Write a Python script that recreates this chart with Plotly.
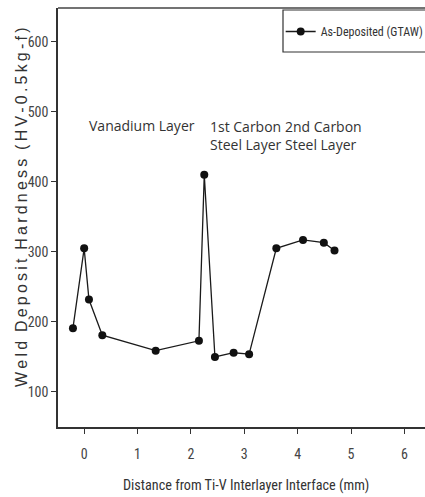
import plotly.graph_objects as go

distance_mm = [-0.21, 0.0, 0.09, 0.34, 1.34, 2.15, 2.25, 2.45, 2.80, 3.09, 3.60, 4.10, 4.49, 4.69]
hardness_hv = [191, 305, 232, 181, 159, 173, 410, 150, 156, 154, 305, 317, 313, 302]
x_ticks = [0, 1, 2, 3, 4, 5, 6]
y_ticks = [100, 200, 300, 400, 500, 600]
series_name = "As-Deposited (GTAW)"

W, H = 425, 497
ml, mr, mt, mb = 58, 0, 8, 70
PW, PH = W - ml - mr, H - mt - mb

narrow = "Liberation Sans Narrow, Roboto Condensed, Arial Narrow, sans-serif"

fig = go.Figure()
fig.add_trace(go.Scatter(
    x=distance_mm, y=hardness_hv, mode="lines+markers", name=series_name,
    line=dict(color="#1a1a1a", width=1.3),
    marker=dict(color="#111111", size=8, symbol="circle"),
))

fig.update_layout(
    width=W, height=H,
    margin=dict(l=ml, r=mr, t=mt, b=mb, autoexpand=False),
    paper_bgcolor="white", plot_bgcolor="white",
    showlegend=True,
    legend=dict(x=1.01, y=(PH - 9) / PH, xanchor="right", yanchor="top",
                bgcolor="rgba(0,0,0,0)", borderwidth=0,
                font=dict(family=narrow, size=12, color="#333333"),
                itemwidth=30),
    xaxis=dict(range=[-0.49, 6.385], tickvals=x_ticks, showgrid=False, zeroline=False,
               showline=True, linecolor="#333333", linewidth=1.5,
               ticks="outside", ticklen=5, tickcolor="#333333",
               tickfont=dict(family=narrow, size=14, color="#444444"),
               ticklabelstandoff=8),
    yaxis=dict(range=[50, 648], tickvals=y_ticks, showgrid=False, zeroline=False,
               showline=True, linecolor="#333333", linewidth=1.5,
               ticks="outside", ticklen=5, tickcolor="#333333",
               tickfont=dict(family=narrow, size=14, color="#444444")),
)

# top border of the frame
fig.add_shape(type="line", xref="paper", yref="paper", x0=0, x1=1, y0=1, y1=1,
              line=dict(color="#444444", width=1.5))
# legend box (extends beyond right edge)
fig.add_shape(type="rect", xref="paper", yref="paper",
              x0=(283 - ml) / PW, x1=1.05,
              y0=(PH + mt - 52) / PH, y1=(PH + mt - 10) / PH,
              line=dict(color="#333333", width=1.2), fillcolor="rgba(0,0,0,0)")

ann_font = dict(family="Open Sans, Noto Sans, sans-serif", size=14, color="#333333")
fig.add_annotation(x=0.05, y=480, text="Vanadium Layer", showarrow=False,
                   xanchor="left", yanchor="middle", font=ann_font)
fig.add_annotation(x=2.32, y=466, text="1st Carbon<br>Steel Layer", showarrow=False,
                   xanchor="left", yanchor="middle", align="left", font=ann_font)
fig.add_annotation(x=3.72, y=466, text="2nd Carbon<br>Steel Layer", showarrow=False,
                   xanchor="left", yanchor="middle", align="left", font=ann_font)

# axis titles
hs = "\u2009"
ytitle = "  ".join(hs.join(w) for w in ["Weld", "Deposit", "Hardness", "(HV-0.5kg-f)"])
fig.add_annotation(xref="paper", yref="paper", x=(245.5 - ml) / PW, y=0,
                   yshift=-58, text="Distance from Ti-V Interlayer Interface (mm)",
                   showarrow=False, xanchor="center", yanchor="middle",
                   font=dict(family=narrow, size=14.2, color="#333333"))
fig.add_annotation(xref="paper", yref="paper", x=0, xshift=-(ml - 21),
                   y=(PH + mt - 208) / PH,
                   text=ytitle, textangle=-90,
                   showarrow=False, xanchor="center", yanchor="middle",
                   font=dict(family="Liberation Sans, Arial, sans-serif", size=16, color="#333333"))

fig.write_html("out.html", config={"displayModeBar": False},
               post_script="document.body.style.margin='0';")
